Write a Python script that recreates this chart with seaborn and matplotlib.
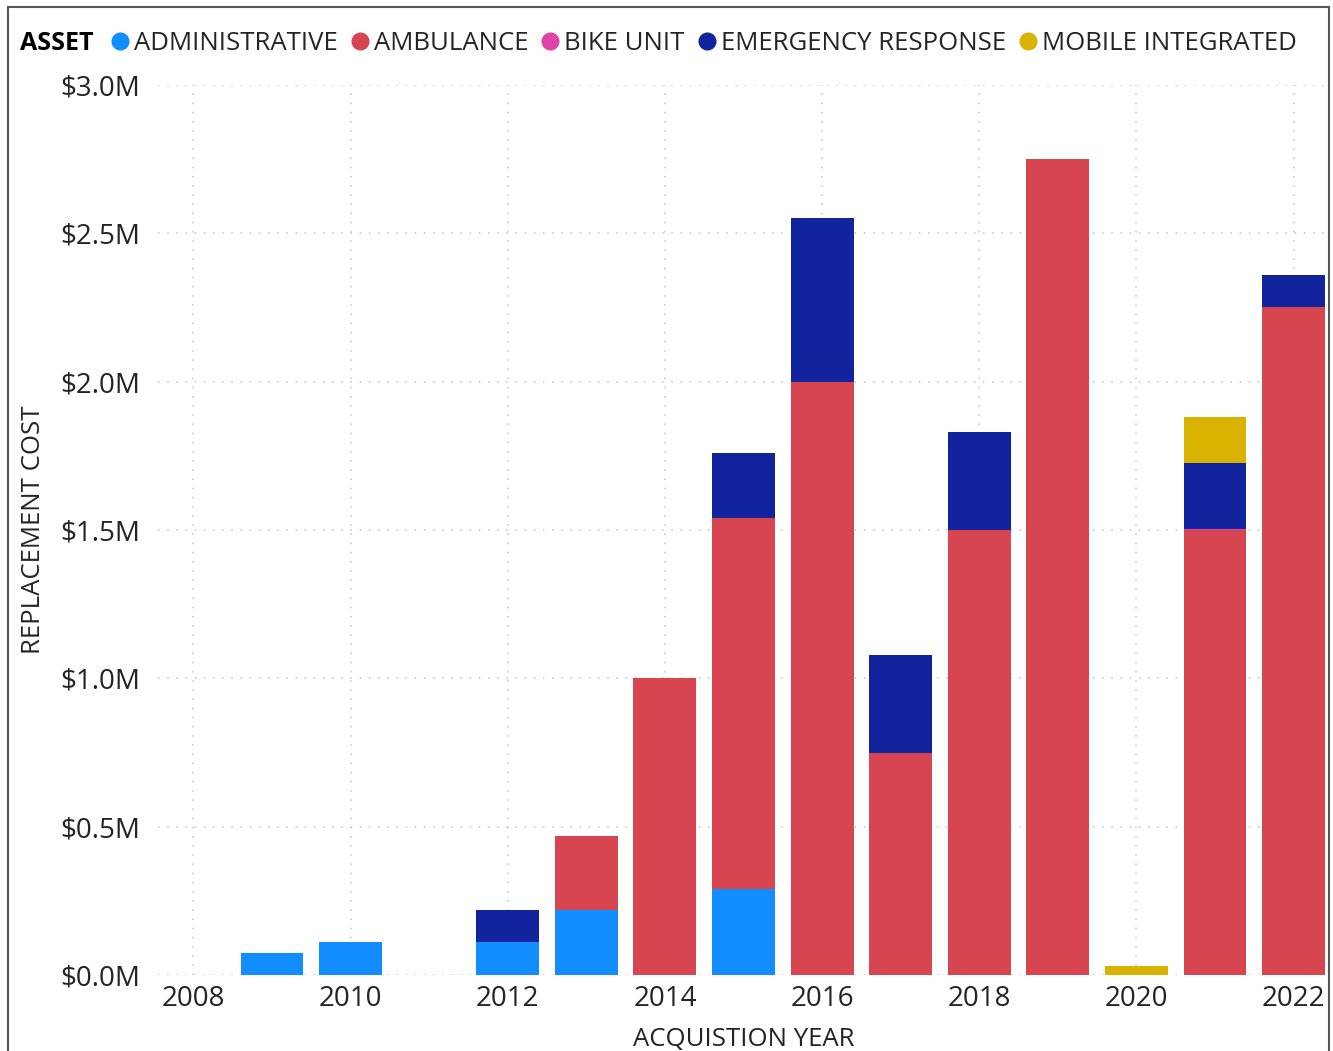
import matplotlib.pyplot as plt
import matplotlib.patches as mpatches
from matplotlib.lines import Line2D
from matplotlib.ticker import FuncFormatter
import pandas as pd
import seaborn as sns

# values, in dollars
years = [2009, 2010, 2012, 2013, 2014, 2015, 2016, 2017, 2018, 2019, 2020, 2021, 2022]
administrative = [75000, 110000, 110000, 220000, 0, 290000, 0, 0, 0, 0, 0, 0, 0]
ambulance = [0, 0, 0, 250000, 1000000, 1250000, 2000000, 750000, 1500000, 2750000, 0, 1500000, 2250000]
bike_unit = [0, 0, 0, 0, 0, 0, 0, 0, 0, 0, 0, 5000, 0]
emergency = [0, 0, 110000, 0, 0, 220000, 550000, 330000, 330000, 0, 0, 220000, 110000]
mobile = [0, 0, 0, 0, 0, 0, 0, 0, 0, 0, 30000, 155000, 0]

assets = ['ADMINISTRATIVE', 'AMBULANCE', 'BIKE UNIT', 'EMERGENCY RESPONSE', 'MOBILE INTEGRATED']
colors = ['#118DFF', '#D64550', '#E044A7', '#12239E', '#D9B300']

df = pd.DataFrame({'year': years,
                   'ADMINISTRATIVE': administrative,
                   'AMBULANCE': ambulance,
                   'BIKE UNIT': bike_unit,
                   'EMERGENCY RESPONSE': emergency,
                   'MOBILE INTEGRATED': mobile})

# running totals, bottom segment first
cum = df[assets].cumsum(axis=1)
cum['year'] = df['year']

sns.set_style('white')
plt.rcParams['font.family'] = ['Open Sans', 'DejaVu Sans']
text_col = '#252423'

fig = plt.figure(figsize=(13.33, 10.51), dpi=100)
ax = fig.add_axes([158 / 1333, 1 - 975 / 1051, (1329 - 158) / 1333, (975 - 85) / 1051])

# draw the tallest running total first so each lower segment covers it
for name, col in reversed(list(zip(assets, colors))):
    sns.barplot(data=cum, x='year', y=name, native_scale=True, color=col,
                width=0.8, errorbar=None, linewidth=0, saturation=1, ax=ax, zorder=3)

ax.set_xlim(2007.55, 2022.45)
ax.set_ylim(0, 3000000)
ax.set_xticks(range(2008, 2023, 2))
ax.set_yticks([i * 500000 for i in range(7)])
ax.yaxis.set_major_formatter(FuncFormatter(lambda v, p: f'${v / 1e6:.1f}M'))
ax.tick_params(axis='both', labelsize=20, colors=text_col, length=0)
ax.tick_params(axis='y', pad=13)
ax.tick_params(axis='x', pad=7)

ax.grid(True, linestyle=(0, (1, 5)), color='#c4c4c4', linewidth=1.1, zorder=0)
for s in ax.spines.values():
    s.set_visible(False)

ax.set_xlabel('ACQUISTION YEAR', fontsize=18.5, color=text_col, labelpad=10)
ax.set_ylabel('REPLACEMENT COST', fontsize=18.5, color=text_col, labelpad=10)

# legend row across the top
fig.text(20 / 1333, 1 - 43 / 1051, 'ASSET', fontsize=18, fontweight='bold',
         color='black', va='center', ha='left')
handles = [Line2D([], [], marker='o', linestyle='', markersize=12, color=c) for c in colors]
fig.legend(handles, assets, loc='center left', bbox_to_anchor=(106 / 1333, 1 - 43 / 1051),
           ncol=5, frameon=False, fontsize=18.5, handletextpad=0.0, columnspacing=0.3,
           handlelength=1.1, borderaxespad=0, borderpad=0, labelcolor=text_col)

# outer frame of the visual
fig.patches.append(mpatches.Rectangle((8 / 1333, -0.05), (1329 - 8) / 1333, 1.05 - 7 / 1051,
                                      transform=fig.transFigure, fill=False,
                                      edgecolor='#555555', linewidth=1.5))

fig.savefig('out.png', dpi=100)
